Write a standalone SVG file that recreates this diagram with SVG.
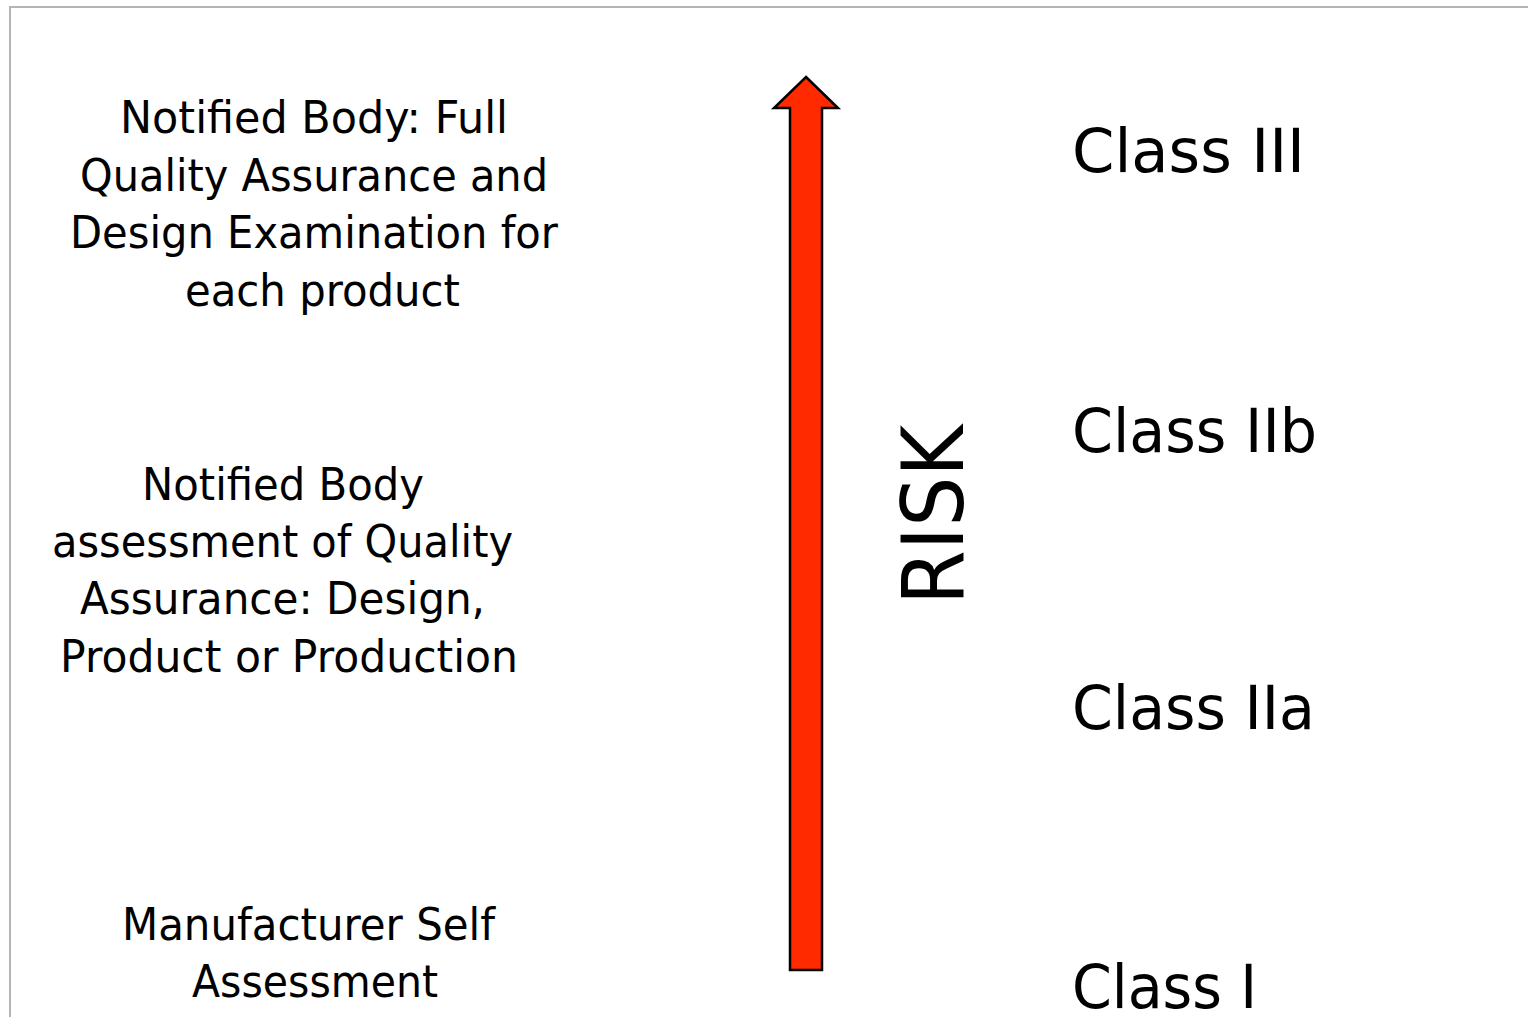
<svg xmlns="http://www.w3.org/2000/svg" width="1528" height="1017" viewBox="0 0 1528 1017">
  <style>
    .frame { stroke: #b4b4b4; stroke-width: 2; fill: none; }
    .lbl { font-family: "DejaVu Sans", Verdana, sans-serif; font-size: 44px; fill: #000; }
    .cls { font-family: "DejaVu Sans", Verdana, sans-serif; font-size: 60px; fill: #000; }
    .risk { font-family: "DejaVu Sans", Verdana, sans-serif; font-size: 86px; fill: #000; }
    .arrow { fill: #ff2a00; stroke: #000; stroke-width: 2.5; stroke-linejoin: miter; }
  </style>
  <rect width="1528" height="1017" fill="#ffffff"/>
  <!-- slide frame -->
  <path class="frame" d="M10,1017 V7 H1528"/>

  <g id="connectors">
    <!-- rising risk arrow -->
    <polygon class="arrow" points="806,77 838,108 822,108 822,970 790,970 790,108 774,108"/>
  </g>

  <g id="risk-label">
    <text class="risk" transform="translate(963,515) rotate(-90)" text-anchor="middle" textLength="180" lengthAdjust="spacingAndGlyphs">RISK</text>
  </g>

  <g id="assessment-class3">
    <text class="lbl" x="120" y="133" textLength="388" lengthAdjust="spacingAndGlyphs">Notified Body: Full</text>
    <text class="lbl" x="80" y="190.5" textLength="468" lengthAdjust="spacingAndGlyphs">Quality Assurance and</text>
    <text class="lbl" x="70" y="248" textLength="488" lengthAdjust="spacingAndGlyphs">Design Examination for</text>
    <text class="lbl" x="185" y="305.5" textLength="275" lengthAdjust="spacingAndGlyphs">each product</text>
  </g>

  <g id="assessment-class2">
    <text class="lbl" x="142" y="499.5" textLength="282" lengthAdjust="spacingAndGlyphs">Notified Body</text>
    <text class="lbl" x="52" y="556.5" textLength="461" lengthAdjust="spacingAndGlyphs">assessment of Quality</text>
    <text class="lbl" x="80" y="614" textLength="405" lengthAdjust="spacingAndGlyphs">Assurance: Design,</text>
    <text class="lbl" x="60" y="671.5" textLength="458" lengthAdjust="spacingAndGlyphs">Product or Production</text>
  </g>

  <g id="assessment-class1">
    <text class="lbl" x="122" y="940" textLength="373" lengthAdjust="spacingAndGlyphs">Manufacturer Self</text>
    <text class="lbl" x="192" y="997" textLength="246" lengthAdjust="spacingAndGlyphs">Assessment</text>
  </g>

  <g id="class-III"><text class="cls" x="1072" y="172" textLength="233" lengthAdjust="spacingAndGlyphs">Class III</text></g>
  <g id="class-IIb"><text class="cls" x="1072" y="452" textLength="245" lengthAdjust="spacingAndGlyphs">Class IIb</text></g>
  <g id="class-IIa"><text class="cls" x="1072" y="729" textLength="243" lengthAdjust="spacingAndGlyphs">Class IIa</text></g>
  <g id="class-I"><text class="cls" x="1072" y="1008" textLength="185" lengthAdjust="spacingAndGlyphs">Class I</text></g>
</svg>
